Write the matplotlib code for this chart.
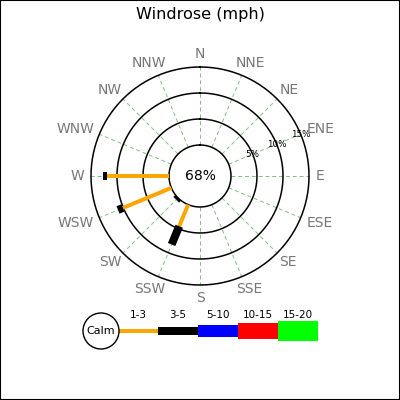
import numpy as np
import matplotlib
matplotlib.use("Agg")
import matplotlib.pyplot as plt
from matplotlib.patches import Circle, Rectangle
from matplotlib.transforms import offset_copy

# wind directions, clockwise from north
directions = ["N", "NNE", "NE", "ENE", "E", "ESE", "SE", "SSE",
              "S", "SSW", "SW", "WSW", "W", "WNW", "NW", "NNW"]
speed_bins = ["1-3", "3-5", "5-10", "10-15", "15-20"]
bin_colors = ["#ffa500", "#000000", "#0000ff", "#ff0000", "#00ff00"]

calm_pct = 68

# percent of observations per direction, one list per speed bin
pct_1_3 = [0, 0, 0, 0, 0, 0, 0, 0, 0, 4.5, 0, 10.1, 11.9, 0, 0, 0]
pct_3_5 = [0, 0, 0, 0, 0, 0, 0, 0, 0, 3.8, 0.5, 1.0, 0.8, 0, 0, 0]
pct_5_10 = [0] * 16
pct_10_15 = [0] * 16
pct_15_20 = [0] * 16

ring_pcts = [5, 10, 15]


def main():
    fig = plt.figure(figsize=(4, 4), dpi=100)

    # background axes in pixel units, used for the legend
    bg = fig.add_axes([0, 0, 1, 1])
    bg.set_xlim(0, 400)
    bg.set_ylim(400, 0)
    bg.set_axis_off()

    fig.patches.append(Rectangle((0, 0), 1, 1, transform=fig.transFigure,
                                 fill=False, edgecolor="black", lw=1.5))
    fig.text(0.5, 1 - 14 / 400, "Windrose (mph)", ha="center", va="center",
             fontsize=11.6)

    # rose
    ax = fig.add_axes([0.2275, 0.2875, 0.545, 0.545], projection="polar")
    ax.set_theta_zero_location("N")
    ax.set_theta_direction(-1)
    ax.set_ylim(0, 15)
    ax.set_rorigin(-31 / 5.2)
    ax.set_axis_off()

    theta = np.deg2rad(np.arange(16) * 22.5)
    full = np.linspace(0, 2 * np.pi, 361)

    for th in theta:
        ax.plot([th, th], [0, 15], color="green", alpha=0.5, lw=0.7,
                dashes=(4, 3), zorder=1, clip_on=False)
    for r in [0] + ring_pcts:
        ax.plot(full, np.full_like(full, r), color="black", lw=1.1,
                zorder=2, clip_on=False)
    for r in ring_pcts:
        ax.text(np.deg2rad(67.5), r, f"{r}%", ha="center", va="center",
                fontsize=6.3, zorder=3)

    # direction labels: box pushed outward so its edge sits on a circle
    renderer = fig.canvas.get_renderer()
    for th, name in zip(theta, directions):
        t = ax.text(th, 16.35, name, ha="center", va="center", fontsize=10,
                    color="#777777")
        bb = t.get_window_extent(renderer)
        dx = bb.width / 2 * np.sin(th)
        dy = bb.height / 2 * np.cos(th) * 0.85
        t.set_transform(offset_copy(ax.transData, fig=fig, x=dx, y=dy,
                                    units="dots"))

    series = [pct_1_3, pct_3_5, pct_5_10, pct_10_15, pct_15_20]
    widths = [4, 8, 12, 16, 20]  # pixels
    base = np.zeros(16)
    for vals, col, w in zip(series, bin_colors, widths):
        vals = np.array(vals, dtype=float)
        for i in range(16):
            if vals[i] > 0:
                ax.plot([theta[i], theta[i]], [base[i], base[i] + vals[i]],
                        color=col, lw=w * 0.72, solid_capstyle="butt",
                        zorder=4, clip_on=False)
        base += vals

    ax.text(0.5, 0.5, f"{calm_pct}%", transform=ax.transAxes, ha="center",
            va="center", fontsize=10)

    # legend
    cx, cy = 101, 331
    bg.add_patch(Circle((cx, cy), 18, facecolor="white", edgecolor="black",
                        lw=1, zorder=3))
    bg.text(cx, cy, "Calm", ha="center", va="center", fontsize=8, zorder=4)
    x0, seg = 118, 40
    for i, (lab, col, w) in enumerate(zip(speed_bins, bin_colors, widths)):
        left = x0 + i * seg
        bg.add_patch(Rectangle((left, cy - w / 2), seg, w, facecolor=col,
                               edgecolor="none", zorder=2))
        bg.text(left + seg / 2, 315, lab, ha="center", va="center",
                fontsize=7.5)

    fig.savefig("out.png", dpi=100)


if __name__ == "__main__":
    main()
